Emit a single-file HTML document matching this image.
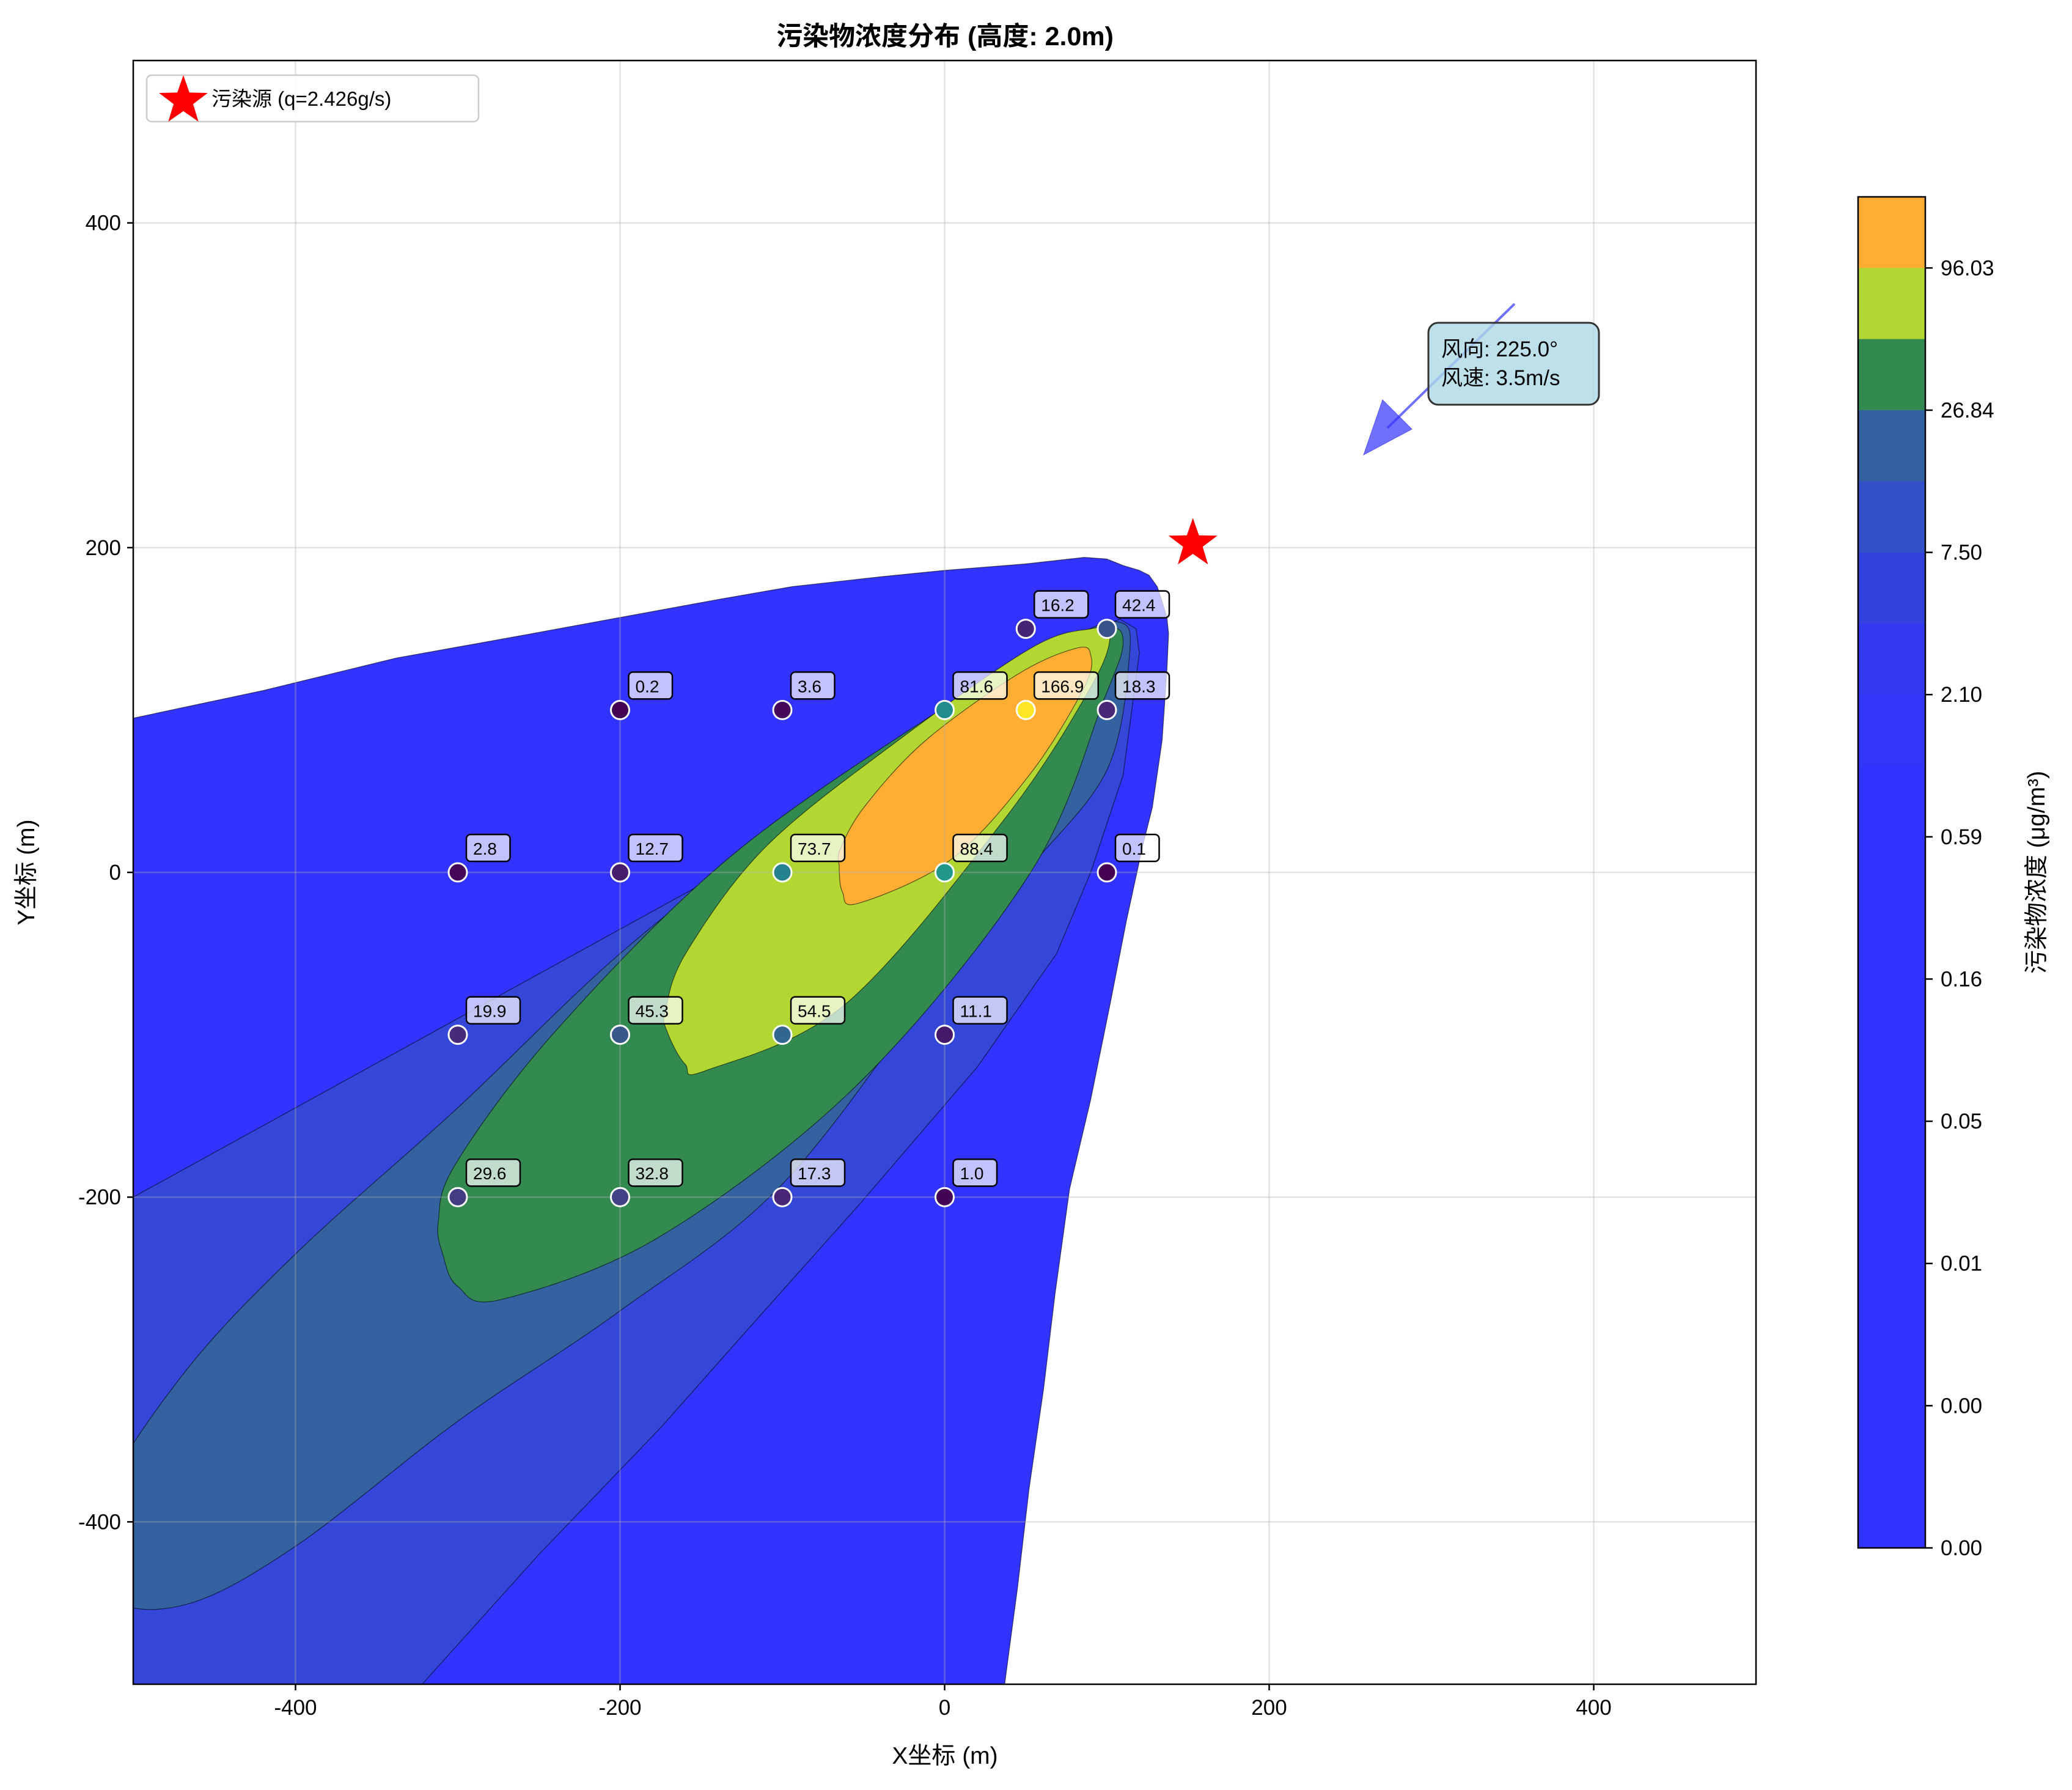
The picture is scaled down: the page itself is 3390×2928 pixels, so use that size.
<!DOCTYPE html>
<html><head><meta charset="utf-8"><style>
html,body{margin:0;padding:0;background:#fff;}
svg{display:block;font-family:"Liberation Sans","Noto Sans CJK SC",sans-serif;}
</style></head><body>
<svg id="chart" width="3390" height="2928" viewBox="0 0 3390 2928" xmlns="http://www.w3.org/2000/svg">
<defs><clipPath id="plotclip"><rect x="218" y="99" width="2655" height="2656"/></clipPath></defs>
<g id="contours" clip-path="url(#plotclip)"></g>
<g id="grid"></g>
<g id="points"></g>
<rect x="218" y="99" width="2655" height="2656" fill="none" stroke="#000" stroke-width="2.5"/>
<g id="axes"></g>
<text x="1546" y="74" text-anchor="middle" font-size="43" font-weight="bold">污染物浓度分布 (高度: 2.0m)</text>
<text x="1546" y="2885" text-anchor="middle" font-size="39">X坐标 (m)</text>
<text transform="translate(56,1427) rotate(-90)" text-anchor="middle" font-size="39">Y坐标 (m)</text>
<g>
<rect x="240" y="123" width="543" height="76" rx="8" fill="#fff" fill-opacity="0.85" stroke="#ccc" stroke-width="2.5"/>
<polygon id="legstar" fill="red"/>
<text x="346" y="173" font-size="33">污染源 (q=2.426g/s)</text>
</g>
<g>
<line x1="2478" y1="497" x2="2270" y2="700" stroke="#3333ff" stroke-opacity="0.7" stroke-width="4"/>
<polygon points="2231,744 2310,702 2262,654" fill="#3333ff" fill-opacity="0.7" stroke="#3333ff" stroke-opacity="0.7"/>
<rect x="2337" y="528" width="279" height="134" rx="16" fill="#add8e6" fill-opacity="0.8" stroke="#333" stroke-width="3"/>
<text x="2358" y="583" font-size="35">风向: 225.0°</text>
<text x="2358" y="630" font-size="35">风速: 3.5m/s</text>
</g>
<polygon id="srcstar" fill="red"/>
<g id="cbar"></g>
<text transform="translate(3345,1427) rotate(-90)" text-anchor="middle" font-size="39">污染物浓度 (μg/m³)</text>
</svg>
<script>
// ---- data ----
const pointX = [50,100,-200,-100,0,50,100,-300,-200,-100,0,100,-300,-200,-100,0,-300,-200,-100,0];
const pointY = [150,150,100,100,100,100,100,0,0,0,0,0,-100,-100,-100,-100,-200,-200,-200,-200];
const pointValues = [16.2,42.4,0.2,3.6,81.6,166.9,18.3,2.8,12.7,73.7,88.4,0.1,19.9,45.3,54.5,11.1,29.6,32.8,17.3,1.0];
const xTicks = [-400,-200,0,200,400];
const yTicks = [-400,-200,0,200,400];
const cbarTickLabels = ["96.03","26.84","7.50","2.10","0.59","0.16","0.05","0.01","0.00","0.00"];
const cbarColors = ["#ffad33","#b2d733","#338a50","#34619f","#3450c8","#3342dd","#3338ee","#3335f8","#3333ff","#3333ff","#3333ff","#3333ff","#3333ff","#3333ff","#3333ff","#3333ff","#3333ff","#3333ff","#3333ff"];
const sourceXY = [153,204];
// contour regions (data coords)
const regionOuter = [[-520,90],[-500,95],[-420,112],[-338,132],[-260,146],[-200,157],[-140,168],[-94,176],[-40,182],[0,186],[50,190],[86,194],[100,193],[110,189],[120,186],[126,183],[131,176],[134,167],[137,157],[138,147],[137,125],[136,110],[134,81],[128,40],[122,16],[112,-30],[102,-81],[90,-140],[77,-195],[68,-260],[61,-318],[52,-380],[45,-440],[37,-500],[35,-540],[-540,-540]];
const regionBand7 = [[-540,-215],[-500,-200],[-400,-145],[-300,-90],[-200,-35],[-100,20],[0,80],[60,125],[94,150],[108,156],[118,150],[120,135],[118,120],[110,60],[90,0],[69,-50],[20,-120],[-53,-205],[-120,-280],[-175,-342],[-250,-420],[-322,-500],[-350,-540],[-540,-540]];
const regionSteel = [[-520,-390],[-470,-310],[-400,-235],[-300,-145],[-200,-50],[-100,28],[0,95],[80,145],[108,154],[114,135],[100,63],[50,0],[0,-62],[-100,-192],[-200,-270],[-300,-338],[-400,-415],[-468,-451],[-515,-445]];
const regionGreen = [[-309,-236],[-300,-255],[-273,-263],[-175,-224],[-53,-130],[53,0],[98,106],[110,142],[98,150],[53,130],[-12,94],[-134,8],[-240,-98],[-301,-179],[-312,-215]];
const regionYG = [[-171,-98],[-160,-118],[-147,-122],[-61,-81],[37,33],[90,114],[102,147],[90,150],[53,138],[-29,81],[-110,16],[-159,-49],[-172,-85]];
const regionOrange = [[-65,4],[-63,-12],[-53,-19],[4,8],[53,61],[86,114],[90,134],[81,138],[45,122],[-12,81],[-49,41],[-64,15]];
const regionColors = ["#3333ff","#3447d8","#34619f","#338a50","#b2d733","#ffad33"];

// ---- axes ----
const X0=218,W=2655,Y0=99,H=2656;
function sx(x){return X0+(x+500)/1000*W;}
function sy(y){return Y0+(500-y)/1000*H;}
const NS="http://www.w3.org/2000/svg";
function mk(tag,attrs,parent){const e=document.createElementNS(NS,tag);for(const k in attrs)e.setAttribute(k,attrs[k]);parent.appendChild(e);return e;}
function smoothPath(pts){
  const p=pts.map(q=>[sx(q[0]),sy(q[1])]);const n=p.length;let d="M"+p[0][0]+","+p[0][1];
  for(let i=0;i<n;i++){const p0=p[(i-1+n)%n],p1=p[i],p2=p[(i+1)%n],p3=p[(i+2)%n];
    const c1=[p1[0]+(p2[0]-p0[0])/6,p1[1]+(p2[1]-p0[1])/6],c2=[p2[0]-(p3[0]-p1[0])/6,p2[1]-(p3[1]-p1[1])/6];
    d+=" C"+c1[0]+","+c1[1]+" "+c2[0]+","+c2[1]+" "+p2[0]+","+p2[1];}
  return d+"Z";}
function linePath(pts){return "M"+pts.map(q=>sx(q[0])+","+sy(q[1])).join(" L")+"Z";}
const cg=document.getElementById("contours");
const regions=[regionOuter,regionBand7,regionSteel,regionGreen,regionYG,regionOrange];
const rnames=["contour-outer","contour-band-7","contour-band-steel","contour-band-green","contour-band-yellow","contour-band-orange"];
regions.forEach((r,i)=>{
  const el=mk("path",{d:(i<2?linePath(r):smoothPath(r)),fill:regionColors[i],stroke:"#000","stroke-width":1.2,"stroke-opacity":0.6,"stroke-linejoin":"round"},cg);
  
  
});
// grid
const gg=document.getElementById("grid");
xTicks.forEach(t=>{const l=mk("line",{x1:sx(t),x2:sx(t),y1:Y0,y2:Y0+H,stroke:"#b0b0b0","stroke-opacity":0.35,"stroke-width":2.5},gg);
  
  });
yTicks.forEach(t=>{const l=mk("line",{y1:sy(t),y2:sy(t),x1:X0,x2:X0+W,stroke:"#b0b0b0","stroke-opacity":0.35,"stroke-width":2.5},gg);
  
  });
// ticks
const ag=document.getElementById("axes");
xTicks.forEach(t=>{const l=mk("line",{x1:sx(t),x2:sx(t),y1:Y0+H,y2:Y0+H+10,stroke:"#000","stroke-width":2.5},ag);
  
  
  const tx=mk("text",{x:sx(t),y:Y0+H+50,"text-anchor":"middle","font-size":35},ag);tx.textContent=t;
  
  });
yTicks.forEach(t=>{const l=mk("line",{x1:X0-10,x2:X0,y1:sy(t),y2:sy(t),stroke:"#000","stroke-width":2.5},ag);
  
  
  const tx=mk("text",{x:X0-20,y:sy(t)+12,"text-anchor":"end","font-size":35},ag);tx.textContent=t;
  
  });
// viridis
const vir=[[68,1,84],[72,40,120],[62,74,137],[49,104,142],[38,130,142],[31,158,137],[53,183,121],[109,205,89],[180,222,44],[253,231,37]];
function viridis(t){t=Math.max(0,Math.min(1,t));const f=t*9,i=Math.min(8,Math.floor(f)),r=f-i;const a=vir[i],b=vir[i+1];
  return "rgb("+a.map((v,k)=>Math.round(v+(b[k]-v)*r)).join(",")+")";}
const vmin=Math.min(...pointValues),vmax=Math.max(...pointValues);
const pg=document.getElementById("points");
pointValues.forEach((v,i)=>{
  const cx=sx(pointX[i]),cy=sy(pointY[i]);
  const c=mk("circle",{cx:cx,cy:cy,r:15,fill:viridis((v-vmin)/(vmax-vmin)),stroke:"#fff","stroke-width":3},pg);
  
  
  const s=v.toFixed(1);const w=22+s.length*16.5;
  const r=mk("rect",{x:cx+14,y:cy-62,width:w,height:44,rx:7,fill:"#fff","fill-opacity":0.7,stroke:"#000","stroke-width":2.5},pg);
  
  
  const t=mk("text",{x:cx+25,y:cy-29,"font-size":28},pg);t.textContent=s;
  
  
});
// stars
function starPts(cx,cy,R){const r=R*0.4;let p=[];for(let k=0;k<10;k++){const a=-Math.PI/2+k*Math.PI/5,rr=k%2?r:R;p.push((cx+rr*Math.cos(a)).toFixed(1)+","+(cy+rr*Math.sin(a)).toFixed(1));}return p.join(" ");}
document.getElementById("srcstar").setAttribute("points",starPts(sx(sourceXY[0]),sy(sourceXY[1])+4,42));
document.getElementById("legstar").setAttribute("points",starPts(300,165,42));
// colorbar
const cb=document.getElementById("cbar");const CX=3040,CW=110,CT=322,CB=2532,bh=(CB-CT)/cbarColors.length;
cbarColors.forEach((c,i)=>{const r=mk("rect",{x:CX,y:CT+i*bh,width:CW,height:bh+0.6,fill:c},cb);
  
  });
const fr=mk("rect",{x:CX,y:CT,width:CW,height:CB-CT,fill:"none",stroke:"#000","stroke-width":2.5},cb);


cbarTickLabels.forEach((s,i)=>{const y=CT+(1+2*i)*bh;
  const l=mk("line",{x1:CX+CW,x2:CX+CW+12,y1:y,y2:y,stroke:"#000","stroke-width":2.5},cb);
  
  
  const t=mk("text",{x:CX+CW+25,y:y+12,"font-size":35},cb);t.textContent=s;
  
  });
</script>
</body></html>
